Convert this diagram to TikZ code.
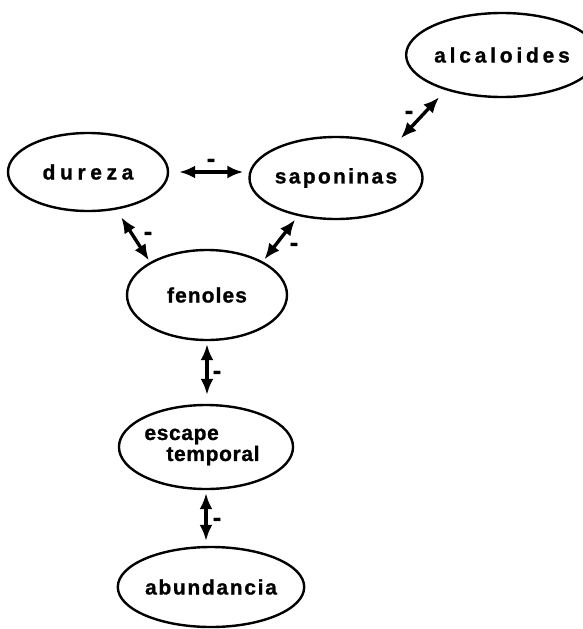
\documentclass[tikz,border=0pt]{standalone}
\usepackage{fontspec}
\usetikzlibrary{shapes.geometric,arrows.meta,calc}
\newfontfamily\labfont{Liberation Sans}[FakeBold=1]
\tikzset{
  bubble/.style={draw, ellipse, line width=2.4pt, inner sep=0pt,
    font=\labfont\bfseries\fontsize{21}{21}\selectfont\addfontfeature{LetterSpace=#1}},
  arr/.style={line width=3.4pt, >={Latex[length=16pt,width=13pt]}, <->},
  minus/.style={inner sep=0pt, font=\labfont\bfseries\fontsize{17}{20}\selectfont}
}
\begin{document}
\begin{tikzpicture}[x=1pt,y=-1pt]
\useasboundingbox (0,0) rectangle (583,629);
\node[bubble=18, minimum width=160pt, minimum height=84pt] (alc) at (502,55) {alcaloides};
\node[bubble=22, minimum width=160pt, minimum height=78pt] (dur) at (88,172) {dureza};
\node[bubble=11, minimum width=162pt, minimum height=82pt] (sap) at (336,178) {saponinas};
\node[bubble=5, minimum width=160pt, minimum height=90pt] (fen) at (207,295) {fenoles};
\node[bubble=3, minimum width=162pt, minimum height=84pt, align=left] (esc) at (206,447) {escape\\\hspace*{22pt}temporal\hspace*{8pt}};
\node[bubble=8, minimum width=158pt, minimum height=80pt] (abu) at (211,587) {abundancia};

\draw[arr, shorten <=10pt, shorten >=5pt] (dur.east) -- (dur.east -| sap.west);
\draw[arr, shorten <=9pt, shorten >=2pt] (dur.-53.8) -- (fen.150);
\draw[arr, shorten <=4.5pt, shorten >=2.5pt] (sap.225.2) -- (fen.31.3);
\draw[arr, shorten <=10.7pt, shorten >=9.5pt] (sap.29.2) -- (alc.212.2);
\draw[arr, shorten <=3pt, shorten >=9pt] (fen.south) -- (fen.south |- esc.north);
\draw[arr, shorten <=3pt, shorten >=5pt] (esc.south) -- (esc.south |- abu.north);

\node[minus] (m1) at (211,163) {\scalebox{1.5}{-}};
\node[minus] (m2) at (148,236) {\scalebox{1.5}{-}};
\node[minus] (m3) at (294,247) {\scalebox{1.5}{-}};
\node[minus] (m4) at (409,115) {\scalebox{1.5}{-}};
\node[minus] (m5) at (217,375) {\scalebox{1.5}{-}};
\node[minus] (m6) at (217,522) {\scalebox{1.5}{-}};
\end{tikzpicture}
\end{document}
